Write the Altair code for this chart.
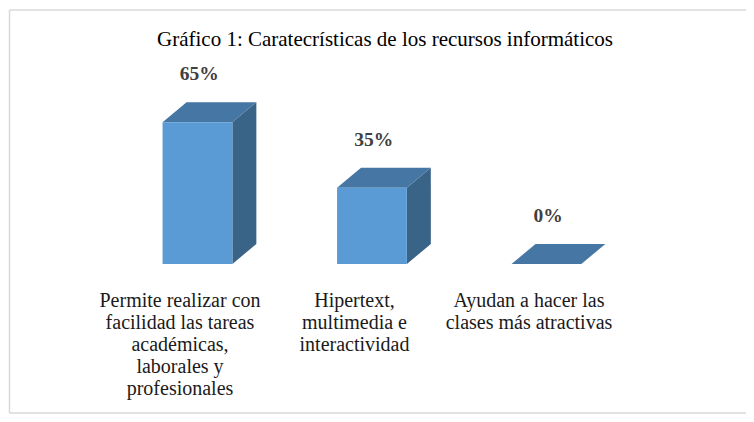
import altair as alt
import pandas as pd

# ---- data ----
categories = [
    "Permite realizar con\nfacilidad las tareas\nacadémicas,\nlaborales y\nprofesionales",
    "Hipertext,\nmultimedia e\ninteractividad",
    "Ayudan a hacer las\nclases más atractivas",
]
values = [65, 35, 0]
value_labels = ["65%", "35%", "0%"]
title_text = "Gráfico 1: Caratecrísticas de los recursos informáticos"

# ---- layout constants (style) ----
W, H = 738, 406
X_DOMAIN = [-0.9857, 3.2436]
Y_DOMAIN = [-68.8, 117.4]
FRONT_L, FRONT_R = -0.1, 0.3      # front face extent relative to category index
DDX, DDY = 0.1375, 9.17           # 3-D depth offset in data units
SERIF = "'Liberation Serif', 'Times New Roman', serif"

FRONT = "#5B9BD5"
TOP = "#4676A3"
SIDE = "#3A6388"

idx = list(range(len(categories)))

front_df = pd.DataFrame({
    "cat": [str(i) for i in idx],
    "x": [i + FRONT_L for i in idx],
    "x2": [i + FRONT_R for i in idx],
    "y": [0 for _ in idx],
    "y2": values,
})

side_rows, top_rows = [], []
for i, v in zip(idx, values):
    side_rows.append({"cat": str(i), "x": i + FRONT_R, "y": 0, "y2": v})
    side_rows.append({"cat": str(i), "x": i + FRONT_R + DDX, "y": DDY, "y2": v + DDY})
    top_rows.append({"cat": str(i), "y": v, "x": i + FRONT_L, "x2": i + FRONT_R})
    top_rows.append({"cat": str(i), "y": v + DDY, "x": i + FRONT_L + DDX, "x2": i + FRONT_R + DDX})
side_df = pd.DataFrame(side_rows)
top_df = pd.DataFrame(top_rows)

label_df = pd.DataFrame({
    "x": [i + 0.11 for i in idx],
    "y": [v + DDY for v in values],
    "t": value_labels,
})
cat_df = pd.DataFrame({
    "x": idx,
    "y": [0 for _ in idx],
    "t": categories,
})

xs = alt.Scale(domain=X_DOMAIN, nice=False, zero=False)
ys = alt.Scale(domain=Y_DOMAIN, nice=False, zero=False)

front = alt.Chart(front_df).mark_rect(color=FRONT).encode(
    x=alt.X("x:Q", scale=xs, axis=None),
    x2="x2:Q",
    y=alt.Y("y:Q", scale=ys, axis=None),
    y2="y2:Q",
)

side = alt.Chart(side_df).mark_area(color=SIDE, orient="vertical").encode(
    x=alt.X("x:Q", scale=xs, axis=None),
    y=alt.Y("y:Q", scale=ys, axis=None),
    y2="y2:Q",
    detail="cat:N",
)

top = alt.Chart(top_df).mark_area(color=TOP, orient="horizontal").encode(
    y=alt.Y("y:Q", scale=ys, axis=None),
    x=alt.X("x:Q", scale=xs, axis=None),
    x2="x2:Q",
    detail="cat:N",
)

vlabels = alt.Chart(label_df).mark_text(
    font=SERIF, fontSize=19.5, fontWeight="bold", color="#404040",
    align="center", baseline="middle", dy=-28,
).encode(
    x=alt.X("x:Q", scale=xs, axis=None),
    y=alt.Y("y:Q", scale=ys, axis=None),
    text="t:N",
)

clabels = alt.Chart(cat_df).mark_text(
    font=SERIF, fontSize=20, color="#1a1a1a",
    align="center", baseline="top", dy=27, lineBreak="\n", lineHeight=22,
).encode(
    x=alt.X("x:Q", scale=xs, axis=None),
    y=alt.Y("y:Q", scale=ys, axis=None),
    text="t:N",
)

title = alt.Chart(pd.DataFrame({"t": [title_text]})).mark_text(
    font=SERIF, fontSize=21, color="#000000",
    align="center", baseline="middle",
).encode(
    x=alt.value(377), y=alt.value(32), text="t:N",
)

border_color = "#D9D9D9"
b_left = alt.Chart(pd.DataFrame({"a": [0]})).mark_rule(color=border_color, strokeWidth=1.5).encode(
    x=alt.value(1.5), y=alt.value(2), y2=alt.value(405)
)
b_top = alt.Chart(pd.DataFrame({"a": [0]})).mark_rule(color=border_color, strokeWidth=1.5).encode(
    x=alt.value(1.5), x2=alt.value(W), y=alt.value(2)
)
b_bottom = alt.Chart(pd.DataFrame({"a": [0]})).mark_rule(color=border_color, strokeWidth=1.5).encode(
    x=alt.value(1.5), x2=alt.value(W), y=alt.value(405)
)

chart = alt.layer(
    b_left, b_top, b_bottom, side, top, front, vlabels, clabels, title
).properties(
    width=W, height=H, autosize=alt.AutoSizeParams(type="none"), padding=0,
    background="white",
).configure_view(stroke=None)

chart.save("out.html", embed_options={"renderer": "svg", "actions": False})
